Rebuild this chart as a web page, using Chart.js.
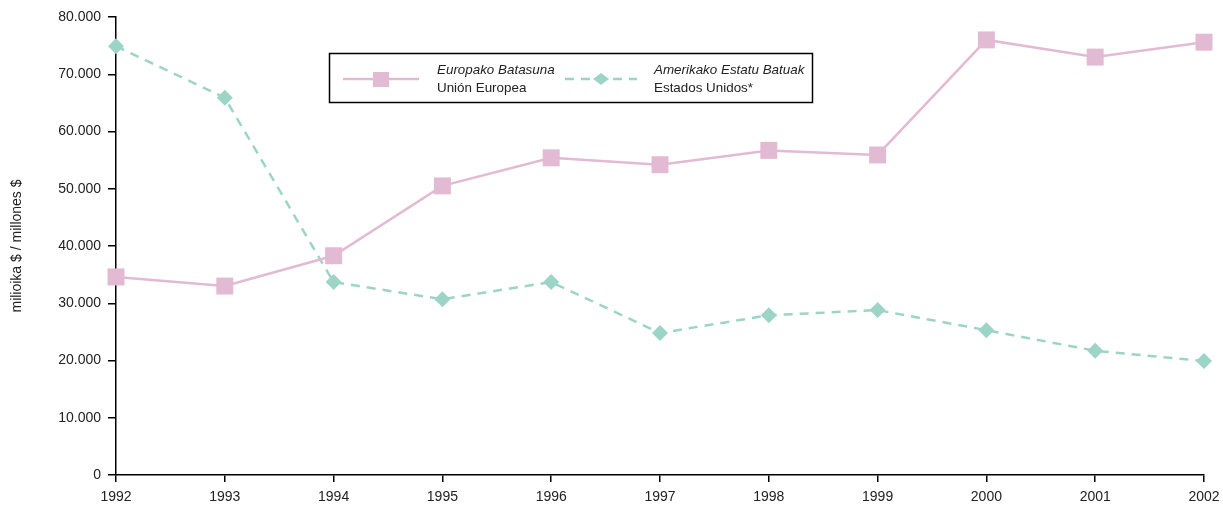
<!DOCTYPE html>
<html>
<head>
<meta charset="utf-8">
<script src="https://cdn.jsdelivr.net/npm/chart.js@4"></script>
<style>
	html, body { margin: 0; padding: 0; background: #fff; }
	#wrap { width: 1223px; height: 506px; }
</style>
</head>
<body>
<div id="wrap"><canvas id="chart" width="1223" height="506"></canvas></div>
<script>
const years = ['1992', '1993', '1994', '1995', '1996', '1997', '1998', '1999', '2000', '2001', '2002'];
const euValues = [34600, 33000, 38300, 50500, 55400, 54200, 56700, 55900, 76000, 73000, 75600];
const usValues = [74900, 65900, 33700, 30700, 33700, 24800, 27900, 28800, 25300, 21700, 19900];
const euLabel = ['Europako Batasuna', 'Unión Europea'];
const usLabel = ['Amerikako Estatu Batuak', 'Estados Unidos*'];
const yTitle = 'milioika $ / millones $';

const pink = 'rgb(227, 186, 211)';
const teal = 'rgb(157, 212, 200)';
const fontFamily = '"Liberation Sans", Arial, sans-serif';

// legend box drawn on the canvas, like the original
const boxLegend = {
	id: 'boxLegend',
	afterDraw(chart) {
		const ctx = chart.ctx;
		ctx.save();
		ctx.strokeStyle = '#000';
		ctx.lineWidth = 1.5;
		ctx.strokeRect(329.5, 53.5, 483, 49);

		// EU sample
		ctx.strokeStyle = pink;
		ctx.lineWidth = 2.5;
		ctx.beginPath();
		ctx.moveTo(343, 79);
		ctx.lineTo(419, 79);
		ctx.stroke();
		ctx.fillStyle = pink;
		ctx.fillRect(373, 72, 16, 15);

		// US sample
		ctx.strokeStyle = teal;
		ctx.setLineDash([9, 7]);
		ctx.beginPath();
		ctx.moveTo(565, 79);
		ctx.lineTo(637, 79);
		ctx.stroke();
		ctx.setLineDash([]);
		ctx.fillStyle = teal;
		ctx.beginPath();
		ctx.moveTo(593, 79);
		ctx.lineTo(601, 73);
		ctx.lineTo(609, 79);
		ctx.lineTo(601, 85);
		ctx.closePath();
		ctx.fill();

		ctx.fillStyle = '#222';
		ctx.textBaseline = 'middle';
		ctx.font = 'italic 13.4px ' + fontFamily;
		ctx.fillText(euLabel[0], 437, 70);
		ctx.fillText(usLabel[0], 654, 70);
		ctx.font = '13.4px ' + fontFamily;
		ctx.fillText(euLabel[1], 437, 88);
		ctx.fillText(usLabel[1], 654, 88);
		ctx.restore();
	}
};

const ctx = document.getElementById('chart').getContext('2d');
new Chart(ctx, {
	type: 'line',
	data: {
		labels: years,
		datasets: [{
			label: euLabel.join(' / '),
			data: euValues,
			borderColor: pink,
			backgroundColor: pink,
			borderWidth: 2.5,
			pointStyle: 'rect',
			pointRadius: 12,
			pointBorderWidth: 0,
			tension: 0
		}, {
			label: usLabel.join(' / '),
			data: usValues,
			borderColor: teal,
			backgroundColor: teal,
			borderWidth: 2.5,
			borderDash: [9, 7],
			pointStyle: 'rectRot',
			pointRadius: 8,
			pointBorderWidth: 0,
			tension: 0
		}]
	},
	options: {
		responsive: false,
		maintainAspectRatio: false,
		animation: false,
		layout: {
			padding: { top: 17, right: 19, left: 0, bottom: 0 }
		},
		plugins: {
			legend: { display: false },
			tooltip: { enabled: false }
		},
		scales: {
			x: {
				type: 'category',
				offset: false,
				afterFit: s => {
					s.height = 31;
					s.paddingLeft = 0;
					s.paddingRight = 0;
				},
				border: { display: true, color: '#000', width: 1.5 },
				grid: { display: true, drawOnChartArea: false, color: '#000', tickLength: 7, lineWidth: 1.5 },
				ticks: {
					color: '#222',
					padding: 7,
					maxRotation: 0,
					autoSkip: false,
					font: { family: fontFamily, size: 14 }
				}
			},
			y: {
				min: 0,
				max: 80000,
				afterFit: s => { s.width = 116; },
				border: { display: true, color: '#000', width: 1.5 },
				grid: { display: true, drawOnChartArea: false, color: '#000', tickLength: 8, lineWidth: 1.5 },
				ticks: {
					stepSize: 10000,
					color: '#222',
					padding: 7,
					font: { family: fontFamily, size: 14 },
					callback: v => v === 0 ? '0' : v.toLocaleString('de-DE')
				},
				title: {
					display: true,
					text: yTitle,
					color: '#222',
					padding: { top: 9, bottom: 0 },
					font: { family: fontFamily, size: 14 }
				}
			}
		}
	},
	plugins: [boxLegend]
});
</script>
</body>
</html>
